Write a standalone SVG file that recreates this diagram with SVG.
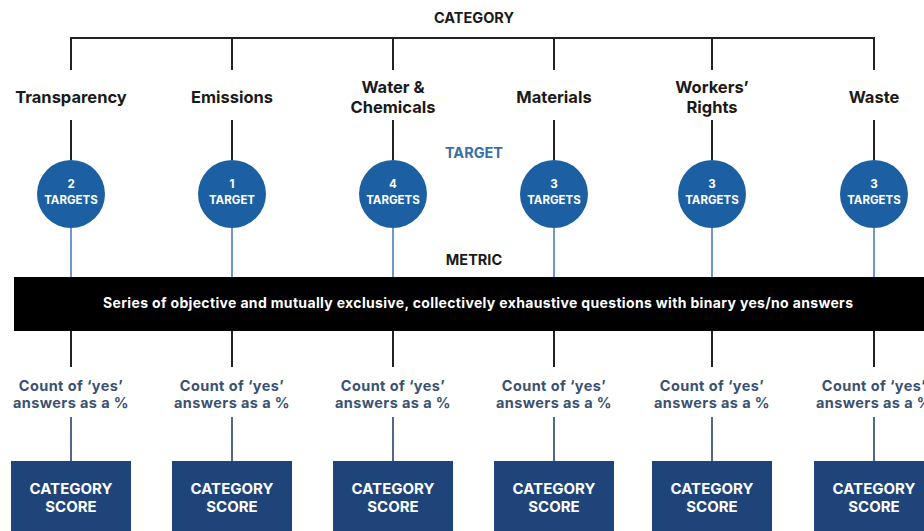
<svg xmlns="http://www.w3.org/2000/svg" width="924" height="531" viewBox="0 0 924 531">
<style>
text{font-family:Inter,"Liberation Sans",Arial,sans-serif;font-weight:700;text-anchor:middle}
.hdr{font-size:14.5px;fill:#1a1a1a}
.tgt{font-size:14.5px;fill:#3a6fa5}
.cat{font-size:16.5px;fill:#1a1a1a}
.circ{fill:#1d5fa3}
.ctxt{font-size:11.5px;fill:#fff}
.cnt{font-size:14.5px;fill:#3a5272;letter-spacing:0.4px}
.box{fill:#1e4479}
.btxt{font-size:15px;fill:#fff}
.bar{font-size:14px;fill:#fff}
.k{stroke:#222;stroke-width:2;fill:none}
.lb{stroke:#6d99c8;stroke-width:2;fill:none}
.sl{stroke:#52688a;stroke-width:2;fill:none}
</style>
<rect width="924" height="531" fill="#fff"/>
<g id="labels">
<text class="hdr" x="474" y="23">CATEGORY</text>
<text class="tgt" x="474" y="158">TARGET</text>
<text class="hdr" x="474" y="265">METRIC</text>
</g>
<g id="connectors">
<path class="k" d="M71 70V38H874V70M232 38V70M393 38V70M554 38V70M712 38V70"/>
<path class="k" d="M71 120V160M232 120V160M393 120V160M554 120V160M712 120V160M874 120V160"/>
<path class="lb" d="M71 228V277M232 228V277M393 228V277M554 228V277M712 228V277M874 228V277"/>
<path class="k" d="M71 331V367M232 331V367M393 331V367M554 331V367M712 331V367M874 331V367"/>
<path class="sl" d="M71 417V461M232 417V461M393 417V461M554 417V461M712 417V461M874 417V461"/>
</g>
<g id="metric-bar">
<rect x="14" y="277" width="910" height="54" fill="#000"/>
<text class="bar" x="478" y="308" textLength="750" lengthAdjust="spacing">Series of objective and mutually exclusive, collectively exhaustive questions with binary yes/no answers</text>
</g>
<g id="col-transparency">
<text class="cat" x="71" y="103">Transparency</text>
<circle class="circ" cx="71" cy="194" r="34"/>
<text class="ctxt" x="71" y="188">2</text><text class="ctxt" x="71" y="204">TARGETS</text>
<text class="cnt" x="71" y="391">Count of ‘yes’</text><text class="cnt" x="71" y="408">answers as a %</text>
<rect class="box" x="11" y="461" width="120" height="70"/>
<text class="btxt" x="71" y="494">CATEGORY</text><text class="btxt" x="71" y="512">SCORE</text>
</g>
<g id="col-emissions">
<text class="cat" x="232" y="103">Emissions</text>
<circle class="circ" cx="232" cy="194" r="34"/>
<text class="ctxt" x="232" y="188">1</text><text class="ctxt" x="232" y="204">TARGET</text>
<text class="cnt" x="232" y="391">Count of ‘yes’</text><text class="cnt" x="232" y="408">answers as a %</text>
<rect class="box" x="172" y="461" width="120" height="70"/>
<text class="btxt" x="232" y="494">CATEGORY</text><text class="btxt" x="232" y="512">SCORE</text>
</g>
<g id="col-water">
<text class="cat" x="393" y="93">Water &amp;</text><text class="cat" x="393" y="113">Chemicals</text>
<circle class="circ" cx="393" cy="194" r="34"/>
<text class="ctxt" x="393" y="188">4</text><text class="ctxt" x="393" y="204">TARGETS</text>
<text class="cnt" x="393" y="391">Count of ‘yes’</text><text class="cnt" x="393" y="408">answers as a %</text>
<rect class="box" x="333" y="461" width="120" height="70"/>
<text class="btxt" x="393" y="494">CATEGORY</text><text class="btxt" x="393" y="512">SCORE</text>
</g>
<g id="col-materials">
<text class="cat" x="554" y="103">Materials</text>
<circle class="circ" cx="554" cy="194" r="34"/>
<text class="ctxt" x="554" y="188">3</text><text class="ctxt" x="554" y="204">TARGETS</text>
<text class="cnt" x="554" y="391">Count of ‘yes’</text><text class="cnt" x="554" y="408">answers as a %</text>
<rect class="box" x="494" y="461" width="120" height="70"/>
<text class="btxt" x="554" y="494">CATEGORY</text><text class="btxt" x="554" y="512">SCORE</text>
</g>
<g id="col-workers">
<text class="cat" x="712" y="93">Workers’</text><text class="cat" x="712" y="113">Rights</text>
<circle class="circ" cx="712" cy="194" r="34"/>
<text class="ctxt" x="712" y="188">3</text><text class="ctxt" x="712" y="204">TARGETS</text>
<text class="cnt" x="712" y="391">Count of ‘yes’</text><text class="cnt" x="712" y="408">answers as a %</text>
<rect class="box" x="652" y="461" width="120" height="70"/>
<text class="btxt" x="712" y="494">CATEGORY</text><text class="btxt" x="712" y="512">SCORE</text>
</g>
<g id="col-waste">
<text class="cat" x="874" y="103">Waste</text>
<circle class="circ" cx="874" cy="194" r="34"/>
<text class="ctxt" x="874" y="188">3</text><text class="ctxt" x="874" y="204">TARGETS</text>
<text class="cnt" x="874" y="391">Count of ‘yes’</text><text class="cnt" x="874" y="408">answers as a %</text>
<rect class="box" x="814" y="461" width="120" height="70"/>
<text class="btxt" x="874" y="494">CATEGORY</text><text class="btxt" x="874" y="512">SCORE</text>
</g>
</svg>
